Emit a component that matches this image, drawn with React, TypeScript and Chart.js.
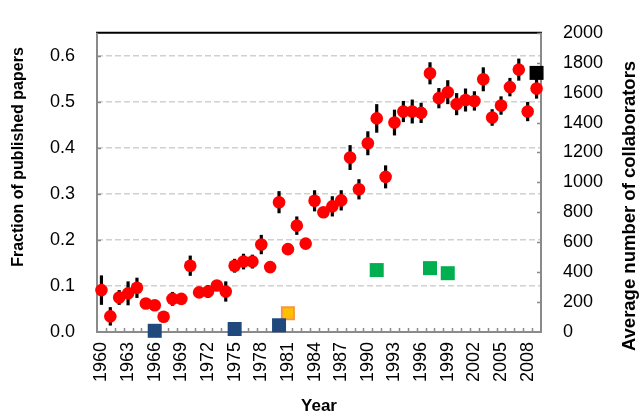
import React, { useEffect, useRef } from 'react';
import { Chart, registerables } from 'chart.js';

Chart.register(...registerables);

const years = [
  '1960', '1961', '1962', '1963', '1964', '1965', '1966', '1967', '1968', '1969',
  '1970', '1971', '1972', '1973', '1974', '1975', '1976', '1977', '1978', '1979',
  '1980', '1981', '1982', '1983', '1984', '1985', '1986', '1987', '1988', '1989',
  '1990', '1991', '1992', '1993', '1994', '1995', '1996', '1997', '1998', '1999',
  '2000', '2001', '2002', '2003', '2004', '2005', '2006', '2007', '2008', '2009',
];

const tickYears = [
  '1960', '1963', '1966', '1969', '1972', '1975', '1978', '1981', '1984',
  '1987', '1990', '1993', '1996', '1999', '2002', '2005', '2008',
];

const fraction = [
  0.091, 0.034, 0.075, 0.084, 0.096, 0.062, 0.058, 0.033, 0.072, 0.072,
  0.144, 0.086, 0.088, 0.101, 0.088, 0.144, 0.153, 0.153, 0.190, 0.141,
  0.282, 0.180, 0.231, 0.192, 0.285, 0.260, 0.273, 0.286, 0.379, 0.310,
  0.410, 0.464, 0.337, 0.455, 0.479, 0.479, 0.476, 0.562, 0.508, 0.521,
  0.495, 0.504, 0.502, 0.549, 0.466, 0.492, 0.532, 0.570, 0.479, 0.529,
];

const fractionErr = [
  0.032, 0.020, 0.016, 0.026, 0.022, 0, 0, 0, 0.015, 0,
  0.022, 0, 0.014, 0, 0.022, 0.015, 0.017, 0.015, 0.021, 0,
  0.024, 0, 0.020, 0, 0.023, 0, 0.022, 0.022, 0.027, 0.022,
  0.026, 0.031, 0.025, 0.028, 0.023, 0.026, 0.022, 0.024, 0.022, 0.026,
  0.024, 0.025, 0.021, 0.026, 0.018, 0.020, 0.020, 0.024, 0.021, 0.022,
];

const blueYears = ['1966', '1975', '1980'];
const blueValues = [8, 20, 45];
const orangeYears = ['1981'];
const orangeValues = [125];
const greenYears = ['1991', '1997', '1999'];
const greenValues = [414, 427, 393];
const blackYears = ['2009'];
const blackValues = [1732];

const leftTicks = [0, 0.1, 0.2, 0.3, 0.4, 0.5, 0.6];
const rightTicks = [0, 200, 400, 600, 800, 1000, 1200, 1400, 1600, 1800, 2000];

const FONT = "'Liberation Sans', Arial, sans-serif";

const framePlugin = {
  id: 'frame',
  beforeDatasetsDraw(chart: any) {
    const { ctx, chartArea: a, scales } = chart;
    const xs = scales.x;
    const ys = scales.y;
    const y2 = scales.y2;
    const line = (x1: number, yA: number, x2: number, yB: number) => {
      ctx.beginPath();
      ctx.moveTo(x1, yA);
      ctx.lineTo(x2, yB);
      ctx.stroke();
    };
    ctx.save();
    ctx.strokeStyle = '#000';
    ctx.lineWidth = 2;
    line(a.left - 1, a.top, a.right + 1, a.top);
    ctx.strokeStyle = '#8a8a8a';
    ctx.lineWidth = 2;
    line(a.left, a.top, a.left, a.bottom + 1);
    line(a.right, a.top, a.right, a.bottom + 1);
    line(a.left - 1, a.bottom, a.right + 1, a.bottom);
    ctx.lineWidth = 1.5;
    leftTicks.forEach((v) => {
      if (v === 0) return;
      const py = Math.round(ys.getPixelForValue(v)) + 0.5;
      line(a.left, py, a.left + 4, py);
    });
    rightTicks.forEach((v) => {
      if (v === 0) return;
      const py = Math.round(y2.getPixelForValue(v)) + 0.5;
      line(a.right - 4, py, a.right, py);
    });
    const half = (xs.getPixelForValue(1) - xs.getPixelForValue(0)) / 2;
    for (let i = 1; i < years.length; i++) {
      const px = Math.round(xs.getPixelForValue(i) - half) + 0.5;
      line(px, a.bottom, px, a.bottom - 4);
    }
    ctx.strokeStyle = '#000';
    ctx.lineWidth = 3.2;
    const meta = chart.getDatasetMeta(0);
    fraction.forEach((v, i) => {
      const e = fractionErr[i];
      if (!e) return;
      const px = meta.data[i].x;
      line(px, ys.getPixelForValue(v + e), px, ys.getPixelForValue(v - e));
    });
    ctx.restore();
  },
  afterDraw(chart: any) {
    const { ctx, chartArea: a } = chart;
    ctx.save();
    ctx.fillStyle = '#000';
    ctx.textAlign = 'center';
    ctx.textBaseline = 'middle';
    ctx.font = `bold 16px ${FONT}`;
    ctx.save();
    ctx.translate(19, 157);
    ctx.rotate(-Math.PI / 2);
    ctx.fillText('Fraction of published papers', 0, 0);
    ctx.restore();
    ctx.font = `bold 18.5px ${FONT}`;
    ctx.save();
    ctx.translate(630, 206);
    ctx.rotate(-Math.PI / 2);
    ctx.fillText('Average number of collaborators', 0, 0);
    ctx.restore();
    ctx.font = `bold 17px ${FONT}`;
    ctx.fillText('Year', (a.left + a.right) / 2, 406);
    ctx.restore();
  },
};

const squareSet = (label: string, ys: string[], vals: number[], fill: string, border: string, bw: number, r: number) => ({
  label,
  data: ys.map((yr, i) => ({ x: yr, y: vals[i] })),
  yAxisID: 'y2',
  showLine: false,
  pointStyle: 'rect',
  pointRadius: r,
  backgroundColor: fill,
  borderColor: border,
  pointBorderWidth: bw,
  borderWidth: bw,
  clip: false,
});

export default function App() {
  const ref = useRef<HTMLCanvasElement | null>(null);

  useEffect(() => {
    if (!ref.current) return;
    const chart = new Chart(ref.current, {
      type: 'line',
      data: {
        labels: years,
        datasets: [
          {
            label: 'Fraction',
            data: fraction,
            yAxisID: 'y',
            showLine: false,
            pointStyle: 'circle',
            pointRadius: 6.3,
            backgroundColor: '#ff0000',
            borderColor: '#ff0000',
            pointBorderWidth: 0,
            borderWidth: 0,
            clip: false,
          } as any,
          squareSet('Blue', blueYears, blueValues, '#1f497d', '#1f497d', 0, 9.9) as any,
          squareSet('Orange', orangeYears, orangeValues, '#ffc000', '#f79646', 2, 8.5) as any,
          squareSet('Green', greenYears, greenValues, '#00b050', '#00b050', 0, 9.9) as any,
          squareSet('Black', blackYears, blackValues, '#000000', '#000000', 0, 9.9) as any,
        ],
      },
      options: {
        responsive: false,
        animation: false,
        events: [],
        layout: { padding: { top: 18, left: 0, right: 0, bottom: 0 } },
        plugins: {
          legend: { display: false },
          tooltip: { enabled: false },
          title: { display: false },
        },
        scales: {
          x: {
            type: 'category',
            offset: true,
            grid: { display: false, drawTicks: false },
            border: { display: false },
            ticks: {
              autoSkip: false,
              minRotation: 90,
              maxRotation: 90,
              padding: 10,
              color: '#000',
              font: { family: FONT, size: 18 },
              callback: (_v: any, idx: number) => (tickYears.includes(years[idx]) ? years[idx] : ''),
            },
            afterFit: (s: any) => {
              s.height = 84;
            },
          },
          y: {
            type: 'linear',
            position: 'left',
            min: 0,
            max: 0.65,
            afterBuildTicks: (s: any) => {
              s.ticks = leftTicks.map((v) => ({ value: v }));
            },
            grid: {
              drawTicks: false,
              lineWidth: 1.5,
              color: (c: any) => (c.tick && c.tick.value === 0 ? 'rgba(0,0,0,0)' : '#d0d0d0'),
            },
            border: { display: false, dash: [6, 3] },
            ticks: {
              padding: 22,
              color: '#000',
              font: { family: FONT, size: 18 },
              callback: (v: any) => Number(v).toFixed(1),
            },
            afterFit: (s: any) => {
              s.width = 97;
            },
          },
          y2: {
            type: 'linear',
            position: 'right',
            min: 0,
            max: 2000,
            afterBuildTicks: (s: any) => {
              s.ticks = rightTicks.map((v) => ({ value: v }));
            },
            grid: { drawOnChartArea: false, drawTicks: false },
            border: { display: false },
            ticks: {
              padding: 22,
              color: '#000',
              font: { family: FONT, size: 18 },
              callback: (v: any) => String(v),
            },
            afterFit: (s: any) => {
              s.width = 102;
            },
          },
        },
      } as any,
      plugins: [framePlugin],
    });
    return () => chart.destroy();
  }, []);

  return (
    <div style={{ position: 'fixed', left: 0, top: 0, width: 643, height: 416, background: '#fff' }}>
      <canvas ref={ref} width={643} height={416} style={{ display: 'block' }} />
    </div>
  );
}
